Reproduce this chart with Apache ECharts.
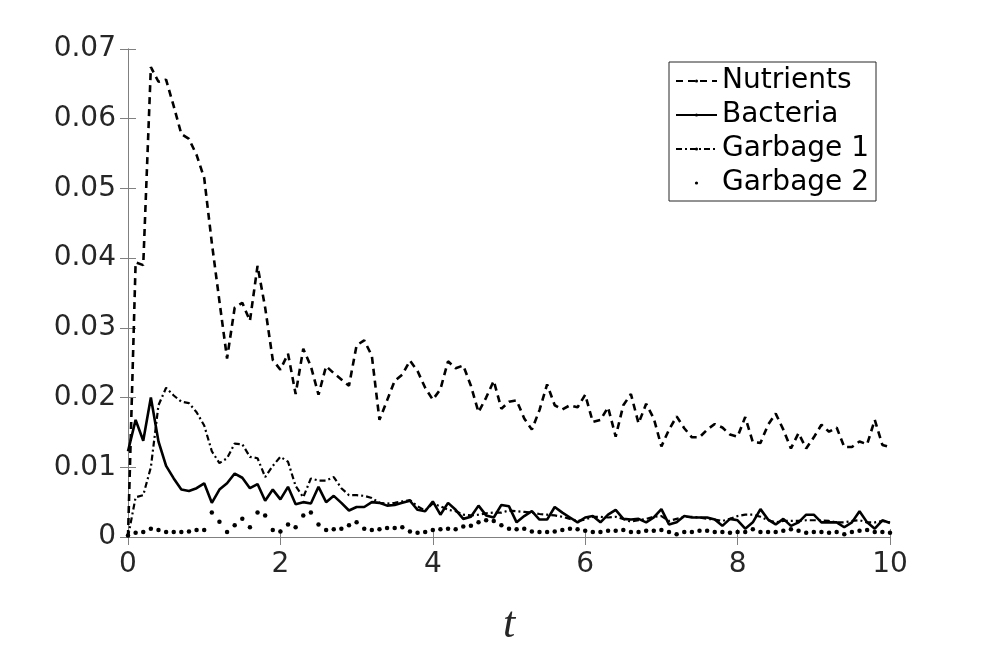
<!DOCTYPE html>
<html>
<head>
<meta charset="utf-8">
<script src="https://cdn.jsdelivr.net/npm/echarts@6/dist/echarts.min.js"></script>
<style>
  html, body { margin: 0; padding: 0; background: #fff; }
  #chart { width: 984px; height: 652px; }
</style>
</head>
<body>
<div id="chart"></div>
<script>
// sample times (t = 0 .. 10, step 0.1)
const times = [
  0, 0.1, 0.2, 0.3, 0.4, 0.5, 0.6, 0.7, 0.8, 0.9,
  1, 1.1, 1.2, 1.3, 1.4, 1.5, 1.6, 1.7, 1.8, 1.9,
  2, 2.1, 2.2, 2.3, 2.4, 2.5, 2.6, 2.7, 2.8, 2.9,
  3, 3.1, 3.2, 3.3, 3.4, 3.5, 3.6, 3.7, 3.8, 3.9,
  4, 4.1, 4.2, 4.3, 4.4, 4.5, 4.6, 4.7, 4.8, 4.9,
  5, 5.1, 5.2, 5.3, 5.4, 5.5, 5.6, 5.7, 5.8, 5.9,
  6, 6.1, 6.2, 6.3, 6.4, 6.5, 6.6, 6.7, 6.8, 6.9,
  7, 7.1, 7.2, 7.3, 7.4, 7.5, 7.6, 7.7, 7.8, 7.9,
  8, 8.1, 8.2, 8.3, 8.4, 8.5, 8.6, 8.7, 8.8, 8.9,
  9, 9.1, 9.2, 9.3, 9.4, 9.5, 9.6, 9.7, 9.8, 9.9,
  10
]

const nutrients = [
  0.0, 0.0394, 0.039, 0.0674, 0.0653, 0.0656, 0.0618, 0.0578, 0.0571, 0.0548,
  0.0515, 0.0422, 0.0338, 0.0256, 0.0329, 0.0336, 0.031, 0.0389, 0.0329, 0.0254,
  0.024, 0.0263, 0.0205, 0.027, 0.0245, 0.0204, 0.0245, 0.0235, 0.0226, 0.0217,
  0.0275, 0.0282, 0.026, 0.0168, 0.0196, 0.0224, 0.0233, 0.0253, 0.0238, 0.0214,
  0.0197, 0.0212, 0.0252, 0.0242, 0.0246, 0.0217, 0.0179, 0.02, 0.0224, 0.0184,
  0.0194, 0.0196, 0.017, 0.0154, 0.0182, 0.0219, 0.0189, 0.0183, 0.0189, 0.0186,
  0.0204, 0.0165, 0.0168, 0.0186, 0.0144, 0.0189, 0.0205, 0.0163, 0.0191, 0.017,
  0.013, 0.0154, 0.0173, 0.0156, 0.0143, 0.0143, 0.0154, 0.0162, 0.0157, 0.0147,
  0.0144, 0.0172, 0.0136, 0.0135, 0.0161, 0.0177, 0.0154, 0.0127, 0.0149, 0.0127,
  0.0143, 0.0161, 0.0151, 0.0157, 0.0129, 0.0129, 0.0137, 0.0133, 0.0168, 0.0132,
  0.0129
]

const bacteria = [
  0.0123, 0.0168, 0.0138, 0.020, 0.0137, 0.0102, 0.0084, 0.0068, 0.0066, 0.007,
  0.0077, 0.0049, 0.0068, 0.0077, 0.0091, 0.0085, 0.007, 0.0076, 0.0052, 0.0068,
  0.0054, 0.0072, 0.0047, 0.005, 0.0048, 0.0072, 0.005, 0.0059, 0.0049, 0.0038,
  0.0043, 0.0043, 0.005, 0.0049, 0.0045, 0.0046, 0.0049, 0.0052, 0.0039, 0.0037,
  0.0051, 0.0032, 0.0049, 0.0039, 0.0026, 0.0029, 0.0045, 0.0031, 0.0028, 0.0046,
  0.0044, 0.0021, 0.003, 0.0037, 0.0025, 0.0025, 0.0043, 0.0035, 0.0028, 0.0021,
  0.0028, 0.003, 0.0021, 0.0032, 0.0039, 0.0026, 0.0025, 0.0026, 0.0021, 0.0028,
  0.004, 0.0018, 0.0021, 0.003, 0.0028, 0.0028, 0.0028, 0.0025, 0.0016, 0.0026,
  0.0024, 0.0012, 0.0021, 0.004, 0.0025, 0.0018, 0.0026, 0.0016, 0.0021, 0.0032,
  0.0032, 0.0021, 0.0021, 0.0021, 0.0014, 0.0021, 0.0037, 0.0021, 0.0012, 0.0024,
  0.002
]

const garbage1 = [
  0.0, 0.0057, 0.006, 0.010, 0.0189, 0.0214, 0.0203, 0.0194, 0.0192, 0.0179,
  0.016, 0.0123, 0.0106, 0.0113, 0.0134, 0.0133, 0.0115, 0.0113, 0.0086, 0.0102,
  0.0115, 0.0108, 0.0073, 0.0057, 0.0084, 0.0081, 0.0081, 0.0086, 0.007, 0.006,
  0.006, 0.0059, 0.0056, 0.0049, 0.0048, 0.0049, 0.0051, 0.0053, 0.0044, 0.0038,
  0.0048, 0.0044, 0.0039, 0.0037, 0.0032, 0.0031, 0.0032, 0.0034, 0.0035, 0.0035,
  0.0038, 0.0037, 0.0036, 0.0035, 0.0033, 0.0032, 0.0031, 0.0029, 0.0026, 0.0023,
  0.0025, 0.0029, 0.0029, 0.0028, 0.0029, 0.0026, 0.0022, 0.0024, 0.0026, 0.0029,
  0.003, 0.0023, 0.0026, 0.0029, 0.0029, 0.0028, 0.0026, 0.0025, 0.0023, 0.0026,
  0.003, 0.0032, 0.0032, 0.0029, 0.0024, 0.0021, 0.0023, 0.0023, 0.0023, 0.0024,
  0.0024, 0.0024, 0.0023, 0.0021, 0.0021, 0.0023, 0.0024, 0.0021, 0.0021, 0.0023,
  0.0021
]

const garbage2 = [
  0.0002, 0.0006, 0.0007, 0.0012, 0.001, 0.0007, 0.0007, 0.0007, 0.0008, 0.001,
  0.001, 0.0035, 0.0022, 0.0007, 0.0017, 0.0026, 0.0014, 0.0035, 0.0031, 0.001,
  0.0008, 0.0018, 0.0014, 0.0031, 0.0035, 0.0018, 0.001, 0.0011, 0.0012, 0.0017,
  0.0021, 0.0012, 0.001, 0.0011, 0.0013, 0.0013, 0.0014, 0.0008, 0.0006, 0.0007,
  0.001, 0.0011, 0.0012, 0.0011, 0.0015, 0.0016, 0.0021, 0.0024, 0.0023, 0.0017,
  0.0012, 0.0011, 0.0012, 0.0008, 0.0007, 0.0007, 0.0008, 0.001, 0.0012, 0.0011,
  0.0009, 0.0007, 0.0007, 0.0009, 0.0009, 0.001, 0.0007, 0.0007, 0.0009, 0.0009,
  0.001, 0.0007, 0.0004, 0.0007, 0.0007, 0.0009, 0.0009, 0.0007, 0.0007, 0.0006,
  0.0007, 0.0007, 0.0011, 0.0007, 0.0007, 0.0007, 0.0009, 0.0011, 0.0009, 0.0006,
  0.0007, 0.0007, 0.0006, 0.0007, 0.0004, 0.0007, 0.0009, 0.001, 0.0007, 0.0007,
  0.0006
]

const seriesNames = ['Nutrients', 'Bacteria', 'Garbage 1', 'Garbage 2']

function pairs(values) {
  return values.map((v, i) => [times[i], v])
}

const frameColor = '#808080'
const labelColor = '#262626'
const fontFamily = 'DejaVu Sans'

let myChart = echarts.init(document.getElementById('chart'), null, { renderer: 'canvas' })

let option = {
  animation: false,
  backgroundColor: '#fff',
  grid: {
    left: 128,
    right: 94,
    top: 49,
    bottom: 104,
  },
  legend: {
    orient: 'vertical',
    left: 669,
    top: 62,
    padding: [2, 7, 1, 6],
    itemGap: 0,
    itemWidth: 41,
    itemHeight: 4,
    backgroundColor: '#fff',
    borderColor: '#262626',
    borderWidth: 1,
    borderRadius: 0,
    textStyle: {
      fontFamily: fontFamily,
      fontSize: 28,
      lineHeight: 34,
      color: '#000',
    },
    data: seriesNames,
  },
  xAxis: [
    {
      type: 'value',
      min: 0,
      max: 10,
      interval: 2,
      name: 't',
      nameLocation: 'middle',
      nameGap: 66,
      nameTextStyle: {
        fontFamily: 'Liberation Serif',
        fontStyle: 'italic',
        fontSize: 44,
        color: labelColor,
      },
      axisLine: { show: true, lineStyle: { color: frameColor, width: 1 } },
      axisTick: { show: true, inside: true, length: 8, lineStyle: { color: frameColor } },
      axisLabel: { fontFamily: fontFamily, fontSize: 28, color: labelColor, margin: 14 },
      splitLine: { show: false },
    },
    {
      type: 'value',
      position: 'top',
      min: 0,
      max: 10,
      interval: 2,
      axisLine: { show: true, lineStyle: { color: frameColor, width: 1 } },
      axisTick: { show: true, inside: true, length: 8, lineStyle: { color: frameColor } },
      axisLabel: { show: false },
      splitLine: { show: false },
    },
  ],
  yAxis: [
    {
      type: 'value',
      min: 0,
      max: 0.07,
      interval: 0.01,
      axisLine: { show: true, lineStyle: { color: frameColor, width: 1 } },
      axisTick: { show: true, inside: true, length: 8, lineStyle: { color: frameColor } },
      axisLabel: {
        fontFamily: fontFamily,
        fontSize: 28,
        color: labelColor,
        margin: 12,
        formatter: (v) => (v === 0 ? '0' : v.toFixed(2)),
      },
      splitLine: { show: false },
    },
    {
      type: 'value',
      position: 'right',
      min: 0,
      max: 0.07,
      interval: 0.01,
      axisLine: { show: true, lineStyle: { color: frameColor, width: 1 } },
      axisTick: { show: true, inside: true, length: 8, lineStyle: { color: frameColor } },
      axisLabel: { show: false },
      splitLine: { show: false },
    },
  ],
  series: [
    {
      name: 'Nutrients',
      type: 'line',
      data: pairs(nutrients),
      symbol: 'none',
      color: '#000',
      lineStyle: { color: '#000', width: 2.6, type: [7, 5] },
      z: 4,
    },
    {
      name: 'Bacteria',
      type: 'line',
      data: pairs(bacteria),
      symbol: 'none',
      color: '#000',
      lineStyle: { color: '#000', width: 2.6, type: 'solid' },
      z: 3,
    },
    {
      name: 'Garbage 1',
      type: 'line',
      data: pairs(garbage1),
      symbol: 'none',
      color: '#000',
      lineStyle: { color: '#000', width: 2.2, type: [6, 3, 2, 3] },
      z: 2,
    },
    {
      name: 'Garbage 2',
      type: 'line',
      data: pairs(garbage2),
      symbol: 'circle',
      symbolSize: 4.5,
      showSymbol: true,
      color: '#000',
      itemStyle: { color: '#000', borderWidth: 0 },
      lineStyle: { width: 0, opacity: 0 },
      z: 1,
    },
  ],
}

option && myChart.setOption(option)
</script>
</body>
</html>
